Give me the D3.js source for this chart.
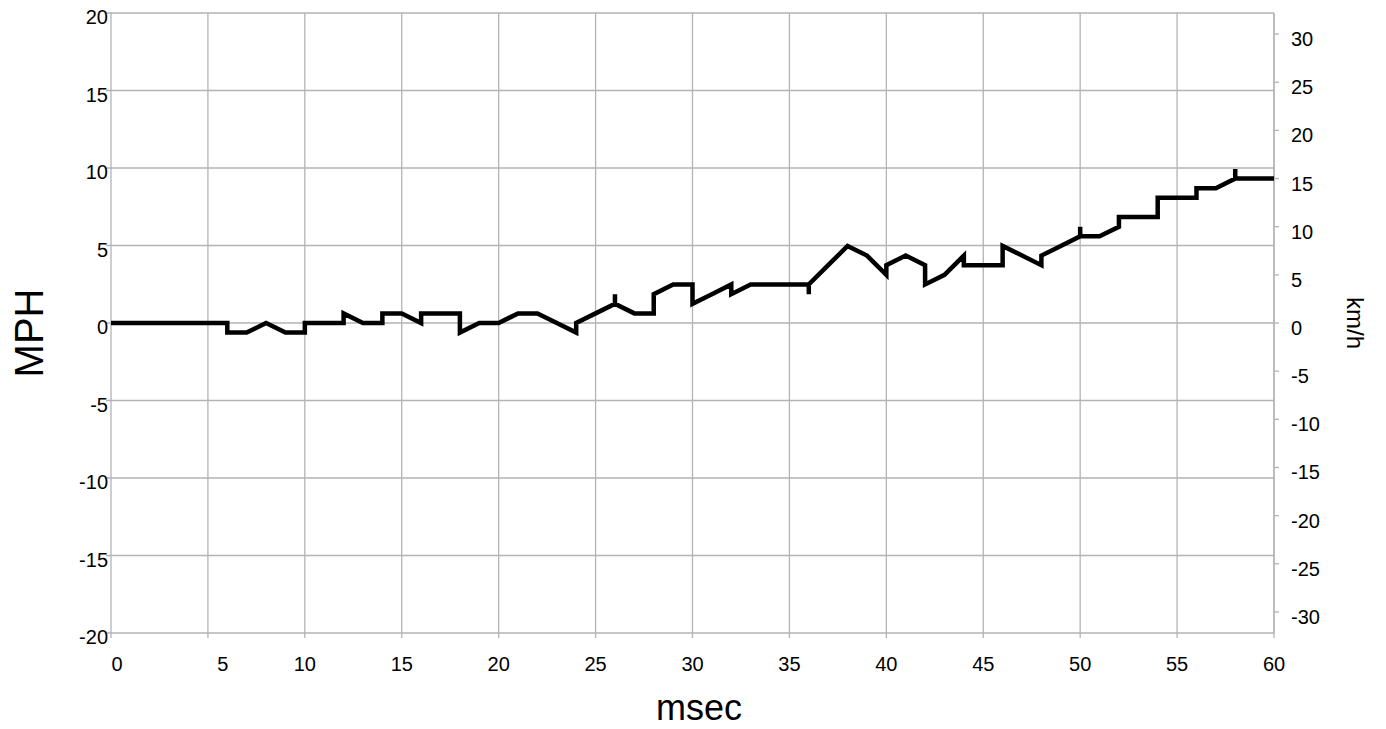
<!DOCTYPE html>
<html>
<head>
<meta charset="utf-8">
<script src="https://cdn.jsdelivr.net/npm/d3@7"></script>
<style>
  body { margin: 0; background: #fff; }
  svg { display: block; font-family: 'Liberation Sans', Arial, sans-serif; }
</style>
</head>
<body>
<div class="graphic_container"></div>
<script>
// time in msec, speed in MPH
const msec = [0, 1, 2, 3, 4, 5, 6, 6, 7, 8, 9, 10, 10, 11, 12, 12, 13, 14, 14, 15,
  16, 16, 17, 18, 18, 19, 20, 21, 22, 23, 24, 24, 25, 26, 26, 26, 27, 28, 28, 29,
  30, 30, 31, 32, 32, 33, 34, 35, 36, 36, 36, 37, 38, 39, 40, 40, 41, 42, 42, 43,
  44, 44, 45, 46, 46, 47, 48, 48, 49, 50, 50, 50, 51, 52, 52, 53, 54, 54, 55, 56,
  56, 57, 58, 58, 58, 59, 60];
const mph = [0, 0, 0, 0, 0, 0, 0, -0.62, -0.62, 0, -0.62, -0.62, 0, 0, 0, 0.62, 0, 0, 0.62, 0.62,
  0, 0.62, 0.62, 0.62, -0.62, 0, 0, 0.62, 0.62, 0, -0.62, 0, 0.62, 1.24, 1.86, 1.24, 0.62, 0.62, 1.86, 2.49,
  2.49, 1.24, 1.86, 2.49, 1.86, 2.49, 2.49, 2.49, 2.49, 1.86, 2.49, 3.73, 4.97, 4.35, 3.11, 3.73, 4.35, 3.73, 2.49, 3.11,
  4.35, 3.73, 3.73, 3.73, 4.97, 4.35, 3.73, 4.35, 4.97, 5.59, 6.21, 5.59, 5.59, 6.21, 6.84, 6.84, 6.84, 8.08, 8.08, 8.08,
  8.70, 8.70, 9.32, 9.94, 9.32, 9.32, 9.32];

const xTicks = [0, 5, 10, 15, 20, 25, 30, 35, 40, 45, 50, 55, 60];
const mphTicks = [-20, -15, -10, -5, 0, 5, 10, 15, 20];
const kmhTicks = [-30, -25, -20, -15, -10, -5, 0, 5, 10, 15, 20, 25, 30];

const width = 1386, height = 729;
const plot = {left: 111, right: 1274, top: 13, bottom: 633};
const gridColor = '#b3b3b3';

const svg = d3.select('.graphic_container')
  .append('svg')
  .attr('width', width)
  .attr('height', height);

const x = d3.scaleLinear().domain([0, 60]).range([plot.left, plot.right]);
const y = d3.scaleLinear().domain([-20, 20]).range([plot.bottom, plot.top]);
// km/h axis shares the same zero, 1 mph = 1.609344 km/h
const yKmh = d3.scaleLinear().domain([-20 * 1.609344, 20 * 1.609344]).range([plot.bottom, plot.top]);

// grid
svg.append('g')
  .selectAll('line')
  .data(xTicks)
  .join('line')
  .attr('x1', d => x(d)).attr('x2', d => x(d))
  .attr('y1', plot.top).attr('y2', plot.bottom + 5)
  .attr('stroke', gridColor).attr('stroke-width', 1.3);

svg.append('g')
  .selectAll('line')
  .data(mphTicks)
  .join('line')
  .attr('x1', plot.left - 5).attr('x2', plot.right)
  .attr('y1', d => y(d)).attr('y2', d => y(d))
  .attr('stroke', gridColor).attr('stroke-width', 1.3);

// right axis line and ticks
svg.append('line')
  .attr('x1', plot.right).attr('x2', plot.right)
  .attr('y1', plot.top).attr('y2', plot.bottom)
  .attr('stroke', gridColor).attr('stroke-width', 1.3);

svg.append('g')
  .selectAll('line')
  .data(kmhTicks)
  .join('line')
  .attr('x1', plot.right).attr('x2', plot.right + 5)
  .attr('y1', d => yKmh(d)).attr('y2', d => yKmh(d))
  .attr('stroke', gridColor).attr('stroke-width', 1.3);

// tick labels
svg.append('g')
  .selectAll('text')
  .data(mphTicks)
  .join('text')
  .attr('x', plot.left - 3)
  .attr('y', d => y(d) + 11)
  .attr('text-anchor', 'end')
  .style('font-size', '20px')
  .text(d => d);

svg.append('g')
  .selectAll('text')
  .data(kmhTicks)
  .join('text')
  .attr('x', plot.right + 17)
  .attr('y', d => yKmh(d) + 12)
  .attr('text-anchor', 'start')
  .style('font-size', '20px')
  .text(d => d);

// the single digit labels sit a bit right of their grid line in the original
const labelShift = d => d === 0 ? 6 : (d === 5 ? 15 : 0);

svg.append('g')
  .selectAll('text')
  .data(xTicks)
  .join('text')
  .attr('x', d => x(d) + labelShift(d))
  .attr('y', plot.bottom + 38)
  .attr('text-anchor', 'middle')
  .style('font-size', '20px')
  .text(d => d);

// axis titles
svg.append('text')
  .attr('transform', `translate(43, 333) rotate(-90)`)
  .attr('text-anchor', 'middle')
  .style('font-size', '40px')
  .text('MPH');

svg.append('text')
  .attr('transform', `translate(1347, ${(plot.top + plot.bottom) / 2}) rotate(90)`)
  .attr('text-anchor', 'middle')
  .style('font-size', '24px')
  .text('km/h');

svg.append('text')
  .attr('x', 699)
  .attr('y', 720)
  .attr('text-anchor', 'middle')
  .style('font-size', '36px')
  .text('msec');

// speed line
const points = msec.map((t, i) => [t, mph[i]]);
svg.append('path')
  .datum(points)
  .attr('fill', 'none')
  .attr('stroke', '#000')
  .attr('stroke-width', 4.5)
  .attr('stroke-linejoin', 'miter')
  .attr('d', d3.line().x(d => x(d[0])).y(d => y(d[1])));
</script>
</body>
</html>
